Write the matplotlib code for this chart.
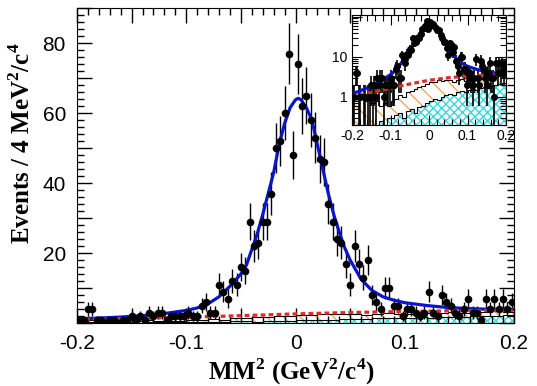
import numpy as np
import matplotlib
matplotlib.use('Agg')
import matplotlib.pyplot as plt
from matplotlib.ticker import MultipleLocator, FuncFormatter, LogLocator, NullFormatter

plt.rcParams['mathtext.fontset'] = 'custom'
plt.rcParams['mathtext.rm'] = 'Liberation Serif:bold'
plt.rcParams['mathtext.bf'] = 'Liberation Serif:bold'
plt.rcParams['hatch.linewidth'] = 1.0

# data: events per 4 MeV^2 bin, MM^2 from -0.2 to 0.2 (100 bins)
edges = np.linspace(-0.2, 0.2, 101)
centers = 0.5 * (edges[:-1] + edges[1:])
counts = np.array([
    1, 1, 4, 4, 1, 1, 0, 1, 1, 0,
    1, 1, 2, 1, 2, 1, 3, 2, 3, 3,
    1, 2, 2, 2, 2, 3, 2, 2, 5, 6,
    3, 3, 11, 9, 7, 12, 11, 16, 15, 29,
    22, 23, 29, 29, 37, 50, 52, 60, 77, 48,
    74, 62, 65, 58, 53, 47, 46, 34, 29, 24,
    23, 17, 11, 22, 17, 13, 18, 8, 6, 4,
    10, 10, 5, 5, 2, 4, 4, 3, 2, 3,
    9, 3, 2, 8, 6, 5, 3, 2, 4, 7,
    3, 3, 1, 7, 4, 7, 4, 7, 4, 6])

# total fit (blue)
fit_x = [-0.20, -0.18, -0.16, -0.14, -0.12, -0.10, -0.09, -0.08, -0.07, -0.06,
         -0.05, -0.045, -0.04, -0.035, -0.03, -0.025, -0.02, -0.015, -0.01, -0.005,
         0.0, 0.0025, 0.005, 0.01, 0.015, 0.02, 0.025, 0.03, 0.035, 0.04,
         0.045, 0.05, 0.06, 0.07, 0.08, 0.09, 0.10, 0.12, 0.14, 0.16, 0.18, 0.20]
fit_y = [1.2, 1.4, 1.7, 2.1, 2.7, 3.6, 4.3, 5.5, 7.5, 10.5,
         14.0, 16.5, 21.0, 25.5, 31.0, 37.0, 43.0, 51.0, 57.0, 61.5,
         63.8, 64.2, 63.8, 61.5, 58.0, 51.0, 44.0, 37.0, 31.0, 26.0,
         21.5, 18.0, 12.5, 9.3, 7.5, 6.5, 5.8, 5.0, 4.4, 4.1, 3.9, 3.9]

# background fit (red dashed)
bkg_x = [-0.20, -0.15, -0.10, -0.05, 0.0, 0.05, 0.10, 0.15, 0.20]
bkg_y = [1.0, 1.3, 1.65, 2.1, 2.6, 3.0, 3.3, 3.5, 3.6]

# background MC histograms (10 MeV^2 bins)
mc_edges = np.linspace(-0.2, 0.2, 41)
mc_cyan = [0.10, 0.15, 0.10, 0.20, 0.15, 0.10, 0.20, 0.25, 0.20, 0.30,
           0.30, 0.35, 0.40, 0.30, 0.45, 0.50, 0.40, 0.55, 0.60, 0.70,
           0.80, 0.90, 0.85, 1.00, 1.10, 1.20, 1.10, 1.30, 1.40, 1.35,
           1.50, 1.60, 1.50, 1.70, 1.80, 1.70, 1.90, 2.00, 2.10, 2.20]
mc_total = [1.0, 0.9, 1.1, 0.8, 0.9, 0.7, 0.8, 0.6, 0.7, 0.6,
            0.8, 0.9, 1.1, 1.0, 1.3, 1.4, 1.6, 1.8, 1.9, 2.1,
            2.3, 2.4, 2.6, 2.5, 2.7, 2.6, 2.4, 2.6, 2.8, 2.5,
            2.7, 2.9, 3.0, 2.8, 3.1, 3.0, 3.2, 3.1, 3.3, 3.2]

blue = '#0a14c8'
red = '#dd2a2a'
cyan = '#38d8e0'
orange = '#f0a860'


def draw(ax, log=False, ms=4.5):
    ax.stairs(mc_total, mc_edges, baseline=mc_cyan, fill=True, facecolor='none',
              edgecolor=orange, hatch='\\\\', linewidth=0)
    ax.stairs(mc_cyan, mc_edges, fill=True, facecolor='none',
              edgecolor=cyan, hatch='xxxx', linewidth=0)
    ax.stairs(mc_cyan, mc_edges, color='black', linewidth=0.8)
    ax.stairs(mc_total, mc_edges, color='black', linewidth=0.8)
    err = np.sqrt(counts)
    if log:
        m = counts > 0
        lo = np.minimum(err[m], counts[m] - 1e-3)
        ax.errorbar(centers[m], counts[m], yerr=[lo, err[m]], fmt='o', color='black',
                    ms=ms, elinewidth=1.2, capsize=0)
    else:
        ax.errorbar(centers, counts, yerr=err, fmt='o', color='black',
                    ms=ms, elinewidth=1, capsize=0)
    ax.plot(fit_x, fit_y, color=blue, lw=2.3)
    ax.plot(bkg_x, bkg_y, color=red, lw=2.3, ls=(0, (1.5, 1)))


fig = plt.figure(figsize=(5.37, 3.86), dpi=100)
ax = fig.add_axes([0.1434, 0.1632, 0.8138, 0.816])
draw(ax)
ax.set_xlim(-0.2, 0.2)
ax.set_ylim(0, 90)
ax.xaxis.set_major_locator(MultipleLocator(0.05))
ax.xaxis.set_minor_locator(MultipleLocator(0.01))
ax.xaxis.set_major_formatter(FuncFormatter(
    lambda v, p: ('%g' % round(v, 2)) if abs(round(v * 10) - v * 10) < 1e-6 else ''))
ax.yaxis.set_major_locator(MultipleLocator(10))
ax.yaxis.set_minor_locator(MultipleLocator(2))
ax.yaxis.set_major_formatter(FuncFormatter(
    lambda v, p: '%d' % v if v > 0 and int(round(v)) % 20 == 0 else ''))
ax.tick_params(which='both', direction='in', top=True, right=True, width=1)
ax.tick_params(which='major', length=11, labelsize=15, pad=8)
ax.tick_params(which='minor', length=5)
for t in ax.get_xticklabels() + ax.get_yticklabels():
    t.set_family('Liberation Sans')
ax.set_xlabel('MM$^2$ (GeV$^2$/c$^4$)', family='Liberation Serif',
              fontweight='bold', fontsize=18)
ax.set_ylabel('Events / 4 MeV$^2$/c$^4$', family='Liberation Serif',
              fontweight='bold', fontsize=18)
ax.xaxis.set_label_coords(0.49, -0.105)
ax.yaxis.set_label_coords(-0.095, 0.57)

# inset, log scale
ins = fig.add_axes([0.6555, 0.6762, 0.2868, 0.285])
draw(ins, log=True, ms=4)
ins.set_yscale('log')
ins.set_xlim(-0.2, 0.2)
ins.set_ylim(0.2, 110)
ins.xaxis.set_major_locator(MultipleLocator(0.1))
ins.xaxis.set_minor_locator(MultipleLocator(0.02))
ins.xaxis.set_major_formatter(FuncFormatter(lambda v, p: '%g' % round(v, 2)))
ins.yaxis.set_major_locator(LogLocator(base=10, numticks=5))
ins.yaxis.set_minor_locator(LogLocator(base=10, subs=np.arange(2, 10), numticks=10))
ins.yaxis.set_minor_formatter(NullFormatter())
ins.yaxis.set_major_formatter(FuncFormatter(lambda v, p: '%g' % v if 0.5 < v < 50 else ''))
ins.tick_params(which='both', direction='in', top=True, right=True, width=0.8)
ins.tick_params(which='major', length=7, labelsize=10, pad=3)
ins.tick_params(which='minor', length=4)
for t in ins.get_xticklabels() + ins.get_yticklabels():
    t.set_family('Liberation Sans')

fig.savefig('out.png', dpi=100)
